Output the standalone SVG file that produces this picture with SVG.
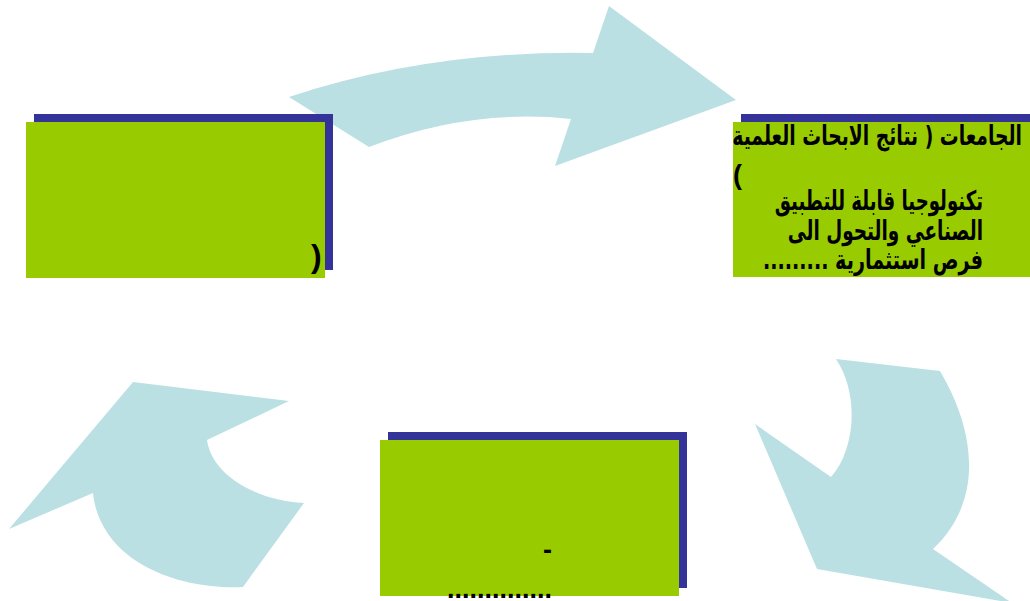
<svg xmlns="http://www.w3.org/2000/svg" width="1030" height="601" viewBox="0 0 1030 601">
<style>
.arrow{fill:#BBE0E3;stroke:none}
.shadow{fill:#333399}
.box{fill:#99CC00}
.t{font-family:"Liberation Sans","DejaVu Sans",sans-serif;font-weight:bold;fill:#000000}
.ar{font-family:"DejaVu Sans","Liberation Sans",sans-serif;font-weight:bold;font-size:27px;fill:#000000}
</style>
<rect width="1030" height="601" fill="#FFFFFF"/>
<g id="connectors">
<path class="arrow" d="M289,97 Q430,50 593,53 L609,6 L736,100 L555,166 L571,119 Q470,108 369,147 Z"/>
<path class="arrow" d="M836,359 L940,371 C975,430 985,500 933,549 L1012,603 L817,569 L755,424 L831,477 C855,450 860,395 836,359 Z"/>
<path class="arrow" d="M133,382 L289,401 L207,440 C212,475 255,500 304,503 L243,587 C175,590 100,560 93,493 L9,529 Z"/>
</g>
<g id="node-left">
<rect class="shadow" x="34" y="114" width="299" height="156"/>
<rect class="box" x="26" y="122" width="299" height="156"/>
<text class="t" x="311" y="267" font-size="32">)</text>
</g>
<g id="node-right">
<rect class="shadow" x="741" y="114" width="300" height="156"/>
<rect class="box" x="733" y="122" width="300" height="155"/>
<text class="ar" x="0" y="0" direction="rtl" transform="translate(1022,145) scale(0.696,1)">الجامعات ( نتائج الابحاث العلمية</text>
<text class="t" x="742" y="184" font-size="27" direction="rtl">)</text>
<text class="ar" x="0" y="0" direction="rtl" transform="translate(983,210) scale(0.671,1)">تكنولوجيا قابلة للتطبيق</text>
<text class="ar" x="0" y="0" direction="rtl" transform="translate(983,240) scale(0.684,1)">الصناعي والتحول الى</text>
<text class="ar" x="0" y="0" direction="rtl" transform="translate(983,269) scale(0.71,1)">فرص استثمارية .........</text>
</g>
<g id="node-bottom">
<rect class="shadow" x="388" y="432" width="299" height="156"/>
<rect class="box" x="380" y="440" width="299" height="156"/>
<text class="t" x="552" y="559" font-size="27" text-anchor="end">-</text>
<text class="t" x="552" y="598" font-size="27" text-anchor="end">..............</text>
</g>
</svg>
